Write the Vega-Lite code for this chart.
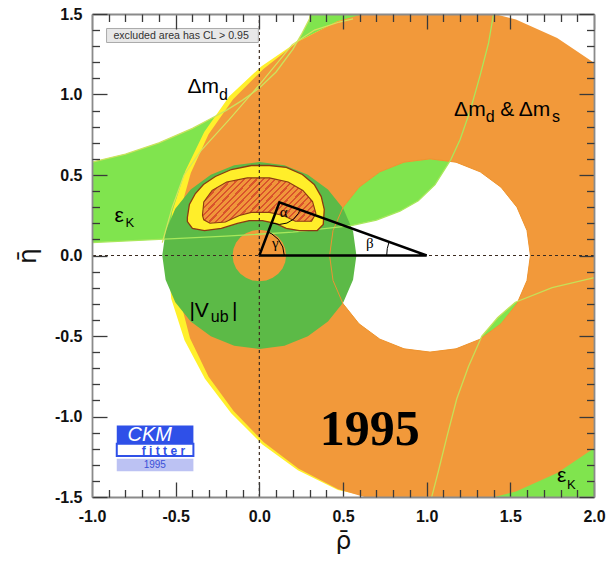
{
"$schema": "https://vega.github.io/schema/vega-lite/v6.json",
"width": 502, "height": 483,
"autosize": {"type": "none"},
"padding": {"left": 92, "top": 14, "right": 14, "bottom": 70},
"background": "white",
"config": {"view": {"stroke": null}, "axis": {"grid": false}},
"resolve": {"axis": {"x": "independent", "y": "independent"}},
"datasets": {
"g1": [{"rho":-1.1,"eta":0.072},{"rho":-1.1,"eta":0.55},{"rho":-1.0,"eta":0.58},{"rho":-0.8,"eta":0.63},{"rho":-0.6,"eta":0.70},{"rho":-0.4,"eta":0.79},{"rho":-0.3,"eta":0.845},{"rho":-0.2,"eta":0.90},{"rho":-0.1,"eta":0.965},{"rho":0.0,"eta":1.04},{"rho":0.1,"eta":1.14},{"rho":0.2,"eta":1.28},{"rho":0.25,"eta":1.37},{"rho":0.3,"eta":1.47},{"rho":0.32,"eta":1.6},{"rho":1.45,"eta":1.6},{"rho":1.40,"eta":1.5},{"rho":1.37,"eta":1.32},{"rho":1.32,"eta":1.12},{"rho":1.26,"eta":0.9},{"rho":1.2,"eta":0.72},{"rho":1.145,"eta":0.596},{"rho":1.05,"eta":0.44},{"rho":0.95,"eta":0.34},{"rho":0.84,"eta":0.275},{"rho":0.7,"eta":0.22},{"rho":0.55,"eta":0.186},{"rho":0.2,"eta":0.145},{"rho":-0.2,"eta":0.12},{"rho":-0.6,"eta":0.10},{"rho":-1.0,"eta":0.08},{"rho":-1.1,"eta":0.072}],
"lu": [{"rho":-1.0,"eta":0.58},{"rho":-0.8,"eta":0.63},{"rho":-0.6,"eta":0.70},{"rho":-0.4,"eta":0.79},{"rho":-0.3,"eta":0.845},{"rho":-0.2,"eta":0.90},{"rho":-0.1,"eta":0.965},{"rho":0.0,"eta":1.04},{"rho":0.1,"eta":1.14},{"rho":0.2,"eta":1.28},{"rho":0.25,"eta":1.37},{"rho":0.3,"eta":1.47},{"rho":0.32,"eta":1.6}],
"ll": [{"rho":-1.0,"eta":0.08},{"rho":-0.6,"eta":0.10},{"rho":-0.2,"eta":0.12},{"rho":0.2,"eta":0.145},{"rho":0.55,"eta":0.186},{"rho":0.7,"eta":0.22},{"rho":0.84,"eta":0.275},{"rho":0.95,"eta":0.34},{"rho":1.05,"eta":0.44},{"rho":1.145,"eta":0.596},{"rho":1.2,"eta":0.72},{"rho":1.26,"eta":0.9},{"rho":1.32,"eta":1.12},{"rho":1.37,"eta":1.32},{"rho":1.40,"eta":1.5},{"rho":1.45,"eta":1.6}],
"g2": [{"rho":2.1,"eta":-0.12},{"rho":1.99,"eta":-0.14},{"rho":1.75,"eta":-0.2},{"rho":1.53,"eta":-0.29},{"rho":1.425,"eta":-0.385},{"rho":1.33,"eta":-0.5},{"rho":1.25,"eta":-0.69},{"rho":1.18,"eta":-0.89},{"rho":1.12,"eta":-1.13},{"rho":1.07,"eta":-1.34},{"rho":1.03,"eta":-1.5},{"rho":1.02,"eta":-1.6},{"rho":2.1,"eta":-1.6},{"rho":2.1,"eta":-0.12}],
"lc2": [{"rho":2.1,"eta":-0.12},{"rho":1.99,"eta":-0.14},{"rho":1.75,"eta":-0.2},{"rho":1.53,"eta":-0.29},{"rho":1.425,"eta":-0.385},{"rho":1.33,"eta":-0.5},{"rho":1.25,"eta":-0.69},{"rho":1.18,"eta":-0.89},{"rho":1.12,"eta":-1.13},{"rho":1.07,"eta":-1.34},{"rho":1.03,"eta":-1.5},{"rho":1.02,"eta":-1.6}],
"l4": [{"rho":-0.58,"eta":0.08},{"rho":-0.52,"eta":0.30},{"rho":-0.45,"eta":0.50},{"rho":-0.35,"eta":0.65},{"rho":-0.179,"eta":0.845},{"rho":0.0,"eta":1.06},{"rho":0.197,"eta":1.31},{"rho":0.33,"eta":1.40},{"rho":0.478,"eta":1.45},{"rho":0.56,"eta":1.47}],
"hole": [{"rho":1.62,"eta":0},{"rho":1.5996,"eta":-0.1553},{"rho":1.5396,"eta":-0.3},{"rho":1.4443,"eta":-0.4243},{"rho":1.32,"eta":-0.5196},{"rho":1.1753,"eta":-0.5796},{"rho":1.02,"eta":-0.6},{"rho":0.8647,"eta":-0.5796},{"rho":0.72,"eta":-0.5196},{"rho":0.5957,"eta":-0.4243},{"rho":0.5004,"eta":-0.3},{"rho":0.4404,"eta":-0.1553},{"rho":0.42,"eta":0},{"rho":0.4404,"eta":0.1553},{"rho":0.5004,"eta":0.3},{"rho":0.5957,"eta":0.4243},{"rho":0.72,"eta":0.5196},{"rho":0.8647,"eta":0.5796},{"rho":1.02,"eta":0.6},{"rho":1.1753,"eta":0.5796},{"rho":1.32,"eta":0.5196},{"rho":1.4443,"eta":0.4243},{"rho":1.5396,"eta":0.3},{"rho":1.5996,"eta":0.1553},{"rho":1.62,"eta":0}],
"yel": [{"rho":2.54,"eta":0},{"rho":2.3336,"eta":0.77},{"rho":1.77,"eta":1.3336},{"rho":1.0,"eta":1.54},{"rho":0.7327,"eta":1.5166},{"rho":0.4699,"eta":1.4565},{"rho":0.2315,"eta":1.3311},{"rho":0.0133,"eta":1.1758},{"rho":-0.1796,"eta":0.9899},{"rho":-0.3293,"eta":0.7675},{"rho":-0.4424,"eta":0.525},{"rho":-0.5215,"eta":0.2682},{"rho":-0.55,"eta":0},{"rho":-0.5264,"eta":-0.2691},{"rho":-0.4471,"eta":-0.5267},{"rho":-0.325,"eta":-0.765},{"rho":-0.1682,"eta":-0.9803},{"rho":0.0165,"eta":-1.172},{"rho":0.23,"eta":-1.3336},{"rho":0.4699,"eta":-1.4565},{"rho":0.7326,"eta":-1.5166},{"rho":1.0,"eta":-1.54},{"rho":1.77,"eta":-1.3336},{"rho":2.3336,"eta":-0.77},{"rho":2.54,"eta":0},
{"rho":1.62,"eta":0},{"rho":1.5996,"eta":-0.1553},{"rho":1.5396,"eta":-0.3},{"rho":1.4443,"eta":-0.4243},{"rho":1.32,"eta":-0.5196},{"rho":1.1753,"eta":-0.5796},{"rho":1.02,"eta":-0.6},{"rho":0.8647,"eta":-0.5796},{"rho":0.72,"eta":-0.5196},{"rho":0.5957,"eta":-0.4243},{"rho":0.5004,"eta":-0.3},{"rho":0.4404,"eta":-0.1553},{"rho":0.42,"eta":0},{"rho":0.4404,"eta":0.1553},{"rho":0.5004,"eta":0.3},{"rho":0.5957,"eta":0.4243},{"rho":0.72,"eta":0.5196},{"rho":0.8647,"eta":0.5796},{"rho":1.02,"eta":0.6},{"rho":1.1753,"eta":0.5796},{"rho":1.32,"eta":0.5196},{"rho":1.4443,"eta":0.4243},{"rho":1.5396,"eta":0.3},{"rho":1.5996,"eta":0.1553},{"rho":1.62,"eta":0}],
"ora": [{"rho":2.56,"eta":0},{"rho":2.5363,"eta":0.2708},{"rho":2.4659,"eta":0.5335},{"rho":2.351,"eta":0.78},{"rho":2.195,"eta":1.0028},{"rho":2.0028,"eta":1.195},{"rho":1.78,"eta":1.351},{"rho":1.5335,"eta":1.4659},{"rho":1.2708,"eta":1.5363},{"rho":1.0,"eta":1.56},{"rho":0.73,"eta":1.5314},{"rho":0.4699,"eta":1.4565},{"rho":0.2325,"eta":1.3293},{"rho":0.0262,"eta":1.1605},{"rho":-0.1567,"eta":0.9706},{"rho":-0.3033,"eta":0.7525},{"rho":-0.4096,"eta":0.513},{"rho":-0.4772,"eta":0.2604},{"rho":-0.5,"eta":0},{"rho":-0.4772,"eta":-0.2604},{"rho":-0.4142,"eta":-0.5147},{"rho":-0.3033,"eta":-0.7525},{"rho":-0.1528,"eta":-0.9674},{"rho":0.0262,"eta":-1.1605},{"rho":0.235,"eta":-1.325},{"rho":0.4716,"eta":-1.4518},{"rho":0.73,"eta":-1.5314},{"rho":1.0,"eta":-1.56},{"rho":1.2708,"eta":-1.5363},{"rho":1.5335,"eta":-1.4659},{"rho":1.78,"eta":-1.351},{"rho":2.0028,"eta":-1.195},{"rho":2.195,"eta":-1.0028},{"rho":2.351,"eta":-0.78},{"rho":2.4659,"eta":-0.5335},{"rho":2.5363,"eta":-0.2708},{"rho":2.56,"eta":0},
{"rho":1.62,"eta":0},{"rho":1.5996,"eta":-0.1553},{"rho":1.5396,"eta":-0.3},{"rho":1.4443,"eta":-0.4243},{"rho":1.32,"eta":-0.5196},{"rho":1.1753,"eta":-0.5796},{"rho":1.02,"eta":-0.6},{"rho":0.8647,"eta":-0.5796},{"rho":0.72,"eta":-0.5196},{"rho":0.5957,"eta":-0.4243},{"rho":0.5004,"eta":-0.3},{"rho":0.4404,"eta":-0.1553},{"rho":0.42,"eta":0},{"rho":0.4404,"eta":0.1553},{"rho":0.5004,"eta":0.3},{"rho":0.5957,"eta":0.4243},{"rho":0.72,"eta":0.5196},{"rho":0.8647,"eta":0.5796},{"rho":1.02,"eta":0.6},{"rho":1.1753,"eta":0.5796},{"rho":1.32,"eta":0.5196},{"rho":1.4443,"eta":0.4243},{"rho":1.5396,"eta":0.3},{"rho":1.5996,"eta":0.1553},{"rho":1.62,"eta":0}],
"vub": [{"rho":0.58,"eta":0},{"rho":0.5602,"eta":0.1501},{"rho":0.5023,"eta":0.29},{"rho":0.4101,"eta":0.4101},{"rho":0.29,"eta":0.5023},{"rho":0.1501,"eta":0.5602},{"rho":0,"eta":0.58},{"rho":-0.1501,"eta":0.5602},{"rho":-0.29,"eta":0.5023},{"rho":-0.4101,"eta":0.4101},{"rho":-0.5023,"eta":0.29},{"rho":-0.5602,"eta":0.1501},{"rho":-0.58,"eta":0},{"rho":-0.5602,"eta":-0.1501},{"rho":-0.5023,"eta":-0.29},{"rho":-0.4101,"eta":-0.4101},{"rho":-0.29,"eta":-0.5023},{"rho":-0.1501,"eta":-0.5602},{"rho":0,"eta":-0.58},{"rho":0.1501,"eta":-0.5602},{"rho":0.29,"eta":-0.5023},{"rho":0.4101,"eta":-0.4101},{"rho":0.5023,"eta":-0.29},{"rho":0.5602,"eta":-0.1501},{"rho":0.58,"eta":0},
{"rho":0.16,"eta":0},{"rho":0.1545,"eta":-0.0414},{"rho":0.1386,"eta":-0.08},{"rho":0.1131,"eta":-0.1131},{"rho":0.08,"eta":-0.1386},{"rho":0.0414,"eta":-0.1545},{"rho":0,"eta":-0.16},{"rho":-0.0414,"eta":-0.1545},{"rho":-0.08,"eta":-0.1386},{"rho":-0.1131,"eta":-0.1131},{"rho":-0.1386,"eta":-0.08},{"rho":-0.1545,"eta":-0.0414},{"rho":-0.16,"eta":0},{"rho":-0.1545,"eta":0.0414},{"rho":-0.1386,"eta":0.08},{"rho":-0.1131,"eta":0.1131},{"rho":-0.08,"eta":0.1386},{"rho":-0.0414,"eta":0.1545},{"rho":0,"eta":0.16},{"rho":0.0414,"eta":0.1545},{"rho":0.08,"eta":0.1386},{"rho":0.1131,"eta":0.1131},{"rho":0.1386,"eta":0.08},{"rho":0.1545,"eta":0.0414},{"rho":0.16,"eta":0}],
"fy": [{"rho":-0.430,"eta":0.236},{"rho":-0.418,"eta":0.317},{"rho":-0.382,"eta":0.385},{"rho":-0.334,"eta":0.441},{"rho":-0.263,"eta":0.491},{"rho":-0.167,"eta":0.534},{"rho":-0.048,"eta":0.559},{"rho":0.060,"eta":0.559},{"rho":0.161,"eta":0.547},{"rho":0.257,"eta":0.503},{"rho":0.328,"eta":0.441},{"rho":0.370,"eta":0.366},{"rho":0.388,"eta":0.286},{"rho":0.382,"eta":0.193},{"rho":0.346,"eta":0.155},{"rho":0.239,"eta":0.155},{"rho":0.161,"eta":0.168},{"rho":0.096,"eta":0.199},{"rho":0.018,"eta":0.217},{"rho":-0.060,"eta":0.217},{"rho":-0.131,"eta":0.199},{"rho":-0.227,"eta":0.168},{"rho":-0.328,"eta":0.155},{"rho":-0.400,"eta":0.168},{"rho":-0.430,"eta":0.211},{"rho":-0.430,"eta":0.236}],
"fh": [{"rho":-0.34,"eta":0.25},{"rho":-0.332,"eta":0.332},{"rho":-0.282,"eta":0.405},{"rho":-0.195,"eta":0.456},{"rho":-0.072,"eta":0.482},{"rho":0.060,"eta":0.482},{"rho":0.172,"eta":0.456},{"rho":0.260,"eta":0.404},{"rho":0.318,"eta":0.335},{"rho":0.338,"eta":0.262},{"rho":0.312,"eta":0.213},{"rho":0.215,"eta":0.213},{"rho":0.143,"eta":0.248},{"rho":0.060,"eta":0.268},{"rho":-0.048,"eta":0.268},{"rho":-0.119,"eta":0.248},{"rho":-0.203,"eta":0.208},{"rho":-0.295,"eta":0.200},{"rho":-0.332,"eta":0.222},{"rho":-0.34,"eta":0.25}],
"tri": [{"rho":0,"eta":0},{"rho":0.12,"eta":0.33},{"rho":1,"eta":0},{"rho":0,"eta":0}],
"arcs": [{"k":"a","rho":0.0737,"eta":0.2018},{"k":"a","rho":0.12,"eta":0.193},{"k":"a","rho":0.1648,"eta":0.2013},{"k":"a","rho":0.2042,"eta":0.225},{"k":"a","rho":0.2334,"eta":0.2615},{"k":"a","rho":0.2433,"eta":0.2836},
{"k":"g","rho":0.149,"eta":0},{"k":"g","rho":0.14,"eta":0.053},{"k":"g","rho":0.1141,"eta":0.0996},{"k":"g","rho":0.0745,"eta":0.1342},{"k":"g","rho":0.0527,"eta":0.145},
{"k":"b","rho":0.761,"eta":0},{"k":"b","rho":0.7646,"eta":0.0431},{"k":"b","rho":0.7751,"eta":0.084}],
"v0": [{"rho":0}],
"h0": [{"eta":0}],
"t21": [{"rho":-0.43,"eta":1.009,"t":"Δm"},{"rho":1.164,"eta":0.866,"t":"Δm"},{"rho":1.439,"eta":0.866,"t":"& Δm"},{"rho":-0.418,"eta":-0.385,"t":"|V"},{"rho":-0.163,"eta":-0.385,"t":"|"},{"rho":-0.866,"eta":0.211,"t":"ε"},{"rho":1.779,"eta":-1.404,"t":"ε"}],
"t16": [{"rho":-0.241,"eta":0.963,"t":"d"},{"rho":1.353,"eta":0.832,"t":"d"},{"rho":1.749,"eta":0.832,"t":"s"},{"rho":-0.29,"eta":-0.41,"t":"ub"}],
"t13": [{"rho":-0.80,"eta":0.174,"t":"K"},{"rho":1.839,"eta":-1.453,"t":"K"}],
"tg": [{"rho":0.145,"eta":0.242,"t":"α"},{"rho":0.095,"eta":0.045,"t":"γ"},{"rho":0.66,"eta":0.045,"t":"β"}],
"ty": [{"rho":0.66,"eta":-1.174,"t":"1995"}],
"legbox": [{"rho":-0.913,"rho2":-0.006,"eta":1.41,"eta2":1.323}],
"tleg": [{"rho":-0.872,"eta":1.346,"t":"excluded area has CL > 0.95"}],
"lb": [{"rho":-0.852,"rho2":-0.394,"eta":-1.056,"eta2":-1.170}],
"lw": [{"rho":-0.852,"rho2":-0.394,"eta":-1.170,"eta2":-1.245}],
"lv": [{"rho":-0.852,"rho2":-0.394,"eta":-1.263,"eta2":-1.340}],
"tckm": [{"rho":-0.788,"eta":-1.150,"t":"CKM"}],
"tfit": [{"rho":-0.573,"eta":-1.240,"t":"f i t t e r"}],
"tyr": [{"rho":-0.625,"eta":-1.319,"t":"1995"}],
"ax": [{"rho":0,"eta":0}]
},
"layer": [
{"data":{"name":"g1"},"mark":{"type":"line","fill":"#80E44E","strokeWidth":0,"clip":true},"encoding":{"x":{"field":"rho","type":"quantitative","scale":{"domain":[-1,2],"nice":false,"zero":false},"axis":null},"y":{"field":"eta","type":"quantitative","scale":{"domain":[-1.5,1.5],"nice":false,"zero":false},"axis":null},"order":{"value":null}}},
{"data":{"name":"g2"},"mark":{"type":"line","fill":"#80E44E","strokeWidth":0,"clip":true},"encoding":{"x":{"field":"rho","type":"quantitative","scale":{"domain":[-1,2],"nice":false,"zero":false},"axis":null},"y":{"field":"eta","type":"quantitative","scale":{"domain":[-1.5,1.5],"nice":false,"zero":false},"axis":null},"order":{"value":null}}},
{"data":{"name":"yel"},"mark":{"type":"line","fill":"#FFF02C","strokeWidth":0,"clip":true},"encoding":{"x":{"field":"rho","type":"quantitative","scale":{"domain":[-1,2],"nice":false,"zero":false},"axis":null},"y":{"field":"eta","type":"quantitative","scale":{"domain":[-1.5,1.5],"nice":false,"zero":false},"axis":null},"order":{"value":null}}},
{"data":{"name":"ora"},"mark":{"type":"line","fill":"#F2993A","strokeWidth":0,"clip":true},"encoding":{"x":{"field":"rho","type":"quantitative","scale":{"domain":[-1,2],"nice":false,"zero":false},"axis":null},"y":{"field":"eta","type":"quantitative","scale":{"domain":[-1.5,1.5],"nice":false,"zero":false},"axis":null},"order":{"value":null}}},
{"data":{"name":"vub"},"mark":{"type":"line","fill":"#5CBA47","strokeWidth":0,"clip":true},"encoding":{"x":{"field":"rho","type":"quantitative","scale":{"domain":[-1,2],"nice":false,"zero":false},"axis":null},"y":{"field":"eta","type":"quantitative","scale":{"domain":[-1.5,1.5],"nice":false,"zero":false},"axis":null},"order":{"value":null}}},
{"data":{"name":"hole"},"mark":{"type":"line","stroke":"#EE9232","strokeWidth":1,"clip":true},"encoding":{"x":{"field":"rho","type":"quantitative","scale":{"domain":[-1,2],"nice":false,"zero":false},"axis":null},"y":{"field":"eta","type":"quantitative","scale":{"domain":[-1.5,1.5],"nice":false,"zero":false},"axis":null},"order":{"value":null}}},
{"data":{"name":"ll"},"mark":{"type":"line","stroke":"#A8E85C","strokeWidth":1.3,"clip":true},"encoding":{"x":{"field":"rho","type":"quantitative","scale":{"domain":[-1,2],"nice":false,"zero":false},"axis":null},"y":{"field":"eta","type":"quantitative","scale":{"domain":[-1.5,1.5],"nice":false,"zero":false},"axis":null},"order":{"value":null}}},
{"data":{"name":"lu"},"mark":{"type":"line","stroke":"#CBE35E","strokeWidth":1.3,"clip":true},"encoding":{"x":{"field":"rho","type":"quantitative","scale":{"domain":[-1,2],"nice":false,"zero":false},"axis":null},"y":{"field":"eta","type":"quantitative","scale":{"domain":[-1.5,1.5],"nice":false,"zero":false},"axis":null},"order":{"value":null}}},
{"data":{"name":"lc2"},"mark":{"type":"line","stroke":"#C6E058","strokeWidth":1.3,"clip":true},"encoding":{"x":{"field":"rho","type":"quantitative","scale":{"domain":[-1,2],"nice":false,"zero":false},"axis":null},"y":{"field":"eta","type":"quantitative","scale":{"domain":[-1.5,1.5],"nice":false,"zero":false},"axis":null},"order":{"value":null}}},
{"data":{"name":"l4"},"mark":{"type":"line","stroke":"#D4E45E","strokeWidth":1.2,"clip":true},"encoding":{"x":{"field":"rho","type":"quantitative","scale":{"domain":[-1,2],"nice":false,"zero":false},"axis":null},"y":{"field":"eta","type":"quantitative","scale":{"domain":[-1.5,1.5],"nice":false,"zero":false},"axis":null},"order":{"value":null}}},
{"data":{"name":"fy"},"mark":{"type":"line","fill":"#FFEE2A","stroke":"#8B3A12","strokeWidth":1.3,"clip":true},"encoding":{"x":{"field":"rho","type":"quantitative","scale":{"domain":[-1,2],"nice":false,"zero":false},"axis":null},"y":{"field":"eta","type":"quantitative","scale":{"domain":[-1.5,1.5],"nice":false,"zero":false},"axis":null},"order":{"value":null}}},
{"data":{"name":"fh"},"mark":{"type":"line","stroke":"#8B3A12","strokeWidth":1.1,"clip":true,"fill":{"gradient":"linear","x1":0,"y1":0,"x2":1.206,"y2":0.465,"stops":[
{"offset":0,"color":"#F0963A"},{"offset":0.026,"color":"#F0963A"},{"offset":0.026,"color":"#D9532B"},{"offset":0.04,"color":"#D9532B"},
{"offset":0.04,"color":"#F0963A"},{"offset":0.066,"color":"#F0963A"},{"offset":0.066,"color":"#D9532B"},{"offset":0.08,"color":"#D9532B"},
{"offset":0.08,"color":"#F0963A"},{"offset":0.106,"color":"#F0963A"},{"offset":0.106,"color":"#D9532B"},{"offset":0.12,"color":"#D9532B"},
{"offset":0.12,"color":"#F0963A"},{"offset":0.146,"color":"#F0963A"},{"offset":0.146,"color":"#D9532B"},{"offset":0.16,"color":"#D9532B"},
{"offset":0.16,"color":"#F0963A"},{"offset":0.186,"color":"#F0963A"},{"offset":0.186,"color":"#D9532B"},{"offset":0.2,"color":"#D9532B"},
{"offset":0.2,"color":"#F0963A"},{"offset":0.226,"color":"#F0963A"},{"offset":0.226,"color":"#D9532B"},{"offset":0.24,"color":"#D9532B"},
{"offset":0.24,"color":"#F0963A"},{"offset":0.266,"color":"#F0963A"},{"offset":0.266,"color":"#D9532B"},{"offset":0.28,"color":"#D9532B"},
{"offset":0.28,"color":"#F0963A"},{"offset":0.306,"color":"#F0963A"},{"offset":0.306,"color":"#D9532B"},{"offset":0.32,"color":"#D9532B"},
{"offset":0.32,"color":"#F0963A"},{"offset":0.346,"color":"#F0963A"},{"offset":0.346,"color":"#D9532B"},{"offset":0.36,"color":"#D9532B"},
{"offset":0.36,"color":"#F0963A"},{"offset":0.386,"color":"#F0963A"},{"offset":0.386,"color":"#D9532B"},{"offset":0.4,"color":"#D9532B"},
{"offset":0.4,"color":"#F0963A"},{"offset":0.426,"color":"#F0963A"},{"offset":0.426,"color":"#D9532B"},{"offset":0.44,"color":"#D9532B"},
{"offset":0.44,"color":"#F0963A"},{"offset":0.466,"color":"#F0963A"},{"offset":0.466,"color":"#D9532B"},{"offset":0.48,"color":"#D9532B"},
{"offset":0.48,"color":"#F0963A"},{"offset":0.506,"color":"#F0963A"},{"offset":0.506,"color":"#D9532B"},{"offset":0.52,"color":"#D9532B"},
{"offset":0.52,"color":"#F0963A"},{"offset":0.546,"color":"#F0963A"},{"offset":0.546,"color":"#D9532B"},{"offset":0.56,"color":"#D9532B"},
{"offset":0.56,"color":"#F0963A"},{"offset":0.586,"color":"#F0963A"},{"offset":0.586,"color":"#D9532B"},{"offset":0.6,"color":"#D9532B"},
{"offset":0.6,"color":"#F0963A"},{"offset":0.626,"color":"#F0963A"},{"offset":0.626,"color":"#D9532B"},{"offset":0.64,"color":"#D9532B"},
{"offset":0.64,"color":"#F0963A"},{"offset":0.666,"color":"#F0963A"},{"offset":0.666,"color":"#D9532B"},{"offset":0.68,"color":"#D9532B"},
{"offset":0.68,"color":"#F0963A"},{"offset":0.706,"color":"#F0963A"},{"offset":0.706,"color":"#D9532B"},{"offset":0.72,"color":"#D9532B"},
{"offset":0.72,"color":"#F0963A"},{"offset":0.746,"color":"#F0963A"},{"offset":0.746,"color":"#D9532B"},{"offset":0.76,"color":"#D9532B"},
{"offset":0.76,"color":"#F0963A"},{"offset":0.786,"color":"#F0963A"},{"offset":0.786,"color":"#D9532B"},{"offset":0.8,"color":"#D9532B"},
{"offset":0.8,"color":"#F0963A"},{"offset":0.826,"color":"#F0963A"},{"offset":0.826,"color":"#D9532B"},{"offset":0.84,"color":"#D9532B"},
{"offset":0.84,"color":"#F0963A"},{"offset":0.866,"color":"#F0963A"},{"offset":0.866,"color":"#D9532B"},{"offset":0.88,"color":"#D9532B"},
{"offset":0.88,"color":"#F0963A"},{"offset":0.906,"color":"#F0963A"},{"offset":0.906,"color":"#D9532B"},{"offset":0.92,"color":"#D9532B"},
{"offset":0.92,"color":"#F0963A"},{"offset":0.946,"color":"#F0963A"},{"offset":0.946,"color":"#D9532B"},{"offset":0.96,"color":"#D9532B"},
{"offset":0.96,"color":"#F0963A"},{"offset":0.986,"color":"#F0963A"},{"offset":0.986,"color":"#D9532B"},{"offset":1,"color":"#D9532B"}
]}},"encoding":{"x":{"field":"rho","type":"quantitative","scale":{"domain":[-1,2],"nice":false,"zero":false},"axis":null},"y":{"field":"eta","type":"quantitative","scale":{"domain":[-1.5,1.5],"nice":false,"zero":false},"axis":null},"order":{"value":null}}},
{"data":{"name":"v0"},"mark":{"type":"rule","stroke":"#3B2B20","strokeWidth":1.2,"strokeDash":[3,3]},"encoding":{"x":{"field":"rho","type":"quantitative","scale":{"domain":[-1,2],"nice":false,"zero":false},"axis":null}}},
{"data":{"name":"h0"},"mark":{"type":"rule","stroke":"#3B2B20","strokeWidth":1.2,"strokeDash":[3,3]},"encoding":{"y":{"field":"eta","type":"quantitative","scale":{"domain":[-1.5,1.5],"nice":false,"zero":false},"axis":null}}},
{"data":{"name":"tri"},"mark":{"type":"line","stroke":"#000000","strokeWidth":2.5,"strokeJoin":"miter"},"encoding":{"x":{"field":"rho","type":"quantitative","scale":{"domain":[-1,2],"nice":false,"zero":false},"axis":null},"y":{"field":"eta","type":"quantitative","scale":{"domain":[-1.5,1.5],"nice":false,"zero":false},"axis":null},"order":{"value":null}}},
{"data":{"name":"arcs"},"mark":{"type":"line","stroke":"#000000","strokeWidth":1},"encoding":{"x":{"field":"rho","type":"quantitative","scale":{"domain":[-1,2],"nice":false,"zero":false},"axis":null},"y":{"field":"eta","type":"quantitative","scale":{"domain":[-1.5,1.5],"nice":false,"zero":false},"axis":null},"detail":{"field":"k"},"order":{"value":null}}},
{"data":{"name":"t21"},"mark":{"type":"text","font":"Liberation Sans","fontSize":21,"align":"left","baseline":"alphabetic","fill":"#000000"},"encoding":{"x":{"field":"rho","type":"quantitative","scale":{"domain":[-1,2],"nice":false,"zero":false},"axis":null},"y":{"field":"eta","type":"quantitative","scale":{"domain":[-1.5,1.5],"nice":false,"zero":false},"axis":null},"text":{"field":"t"}}},
{"data":{"name":"t16"},"mark":{"type":"text","font":"Liberation Sans","fontSize":16,"align":"left","baseline":"alphabetic","fill":"#000000"},"encoding":{"x":{"field":"rho","type":"quantitative","scale":{"domain":[-1,2],"nice":false,"zero":false},"axis":null},"y":{"field":"eta","type":"quantitative","scale":{"domain":[-1.5,1.5],"nice":false,"zero":false},"axis":null},"text":{"field":"t"}}},
{"data":{"name":"t13"},"mark":{"type":"text","font":"Liberation Sans","fontSize":13,"align":"left","baseline":"alphabetic","fill":"#000000"},"encoding":{"x":{"field":"rho","type":"quantitative","scale":{"domain":[-1,2],"nice":false,"zero":false},"axis":null},"y":{"field":"eta","type":"quantitative","scale":{"domain":[-1.5,1.5],"nice":false,"zero":false},"axis":null},"text":{"field":"t"}}},
{"data":{"name":"tg"},"mark":{"type":"text","font":"Liberation Serif","fontSize":15,"align":"center","baseline":"alphabetic","fill":"#000000"},"encoding":{"x":{"field":"rho","type":"quantitative","scale":{"domain":[-1,2],"nice":false,"zero":false},"axis":null},"y":{"field":"eta","type":"quantitative","scale":{"domain":[-1.5,1.5],"nice":false,"zero":false},"axis":null},"text":{"field":"t"}}},
{"data":{"name":"ty"},"mark":{"type":"text","font":"Liberation Serif","fontSize":50,"fontWeight":"bold","align":"center","baseline":"alphabetic","fill":"#000000"},"encoding":{"x":{"field":"rho","type":"quantitative","scale":{"domain":[-1,2],"nice":false,"zero":false},"axis":null},"y":{"field":"eta","type":"quantitative","scale":{"domain":[-1.5,1.5],"nice":false,"zero":false},"axis":null},"text":{"field":"t"}}},
{"data":{"name":"legbox"},"mark":{"type":"rect","fill":"#E8E8E8","stroke":"#ABABAB","strokeWidth":1},"encoding":{"x":{"field":"rho","type":"quantitative","scale":{"domain":[-1,2],"nice":false,"zero":false},"axis":null},"x2":{"field":"rho2"},"y":{"field":"eta","type":"quantitative","scale":{"domain":[-1.5,1.5],"nice":false,"zero":false},"axis":null},"y2":{"field":"eta2"}}},
{"data":{"name":"tleg"},"mark":{"type":"text","font":"Liberation Sans","fontSize":10.6,"align":"left","baseline":"alphabetic","fill":"#333333"},"encoding":{"x":{"field":"rho","type":"quantitative","scale":{"domain":[-1,2],"nice":false,"zero":false},"axis":null},"y":{"field":"eta","type":"quantitative","scale":{"domain":[-1.5,1.5],"nice":false,"zero":false},"axis":null},"text":{"field":"t"}}},
{"data":{"name":"lb"},"mark":{"type":"rect","fill":"#2F50E8"},"encoding":{"x":{"field":"rho","type":"quantitative","scale":{"domain":[-1,2],"nice":false,"zero":false},"axis":null},"x2":{"field":"rho2"},"y":{"field":"eta","type":"quantitative","scale":{"domain":[-1.5,1.5],"nice":false,"zero":false},"axis":null},"y2":{"field":"eta2"}}},
{"data":{"name":"lw"},"mark":{"type":"rect","fill":"#FFFFFF","stroke":"#2F50E8","strokeWidth":2},"encoding":{"x":{"field":"rho","type":"quantitative","scale":{"domain":[-1,2],"nice":false,"zero":false},"axis":null},"x2":{"field":"rho2"},"y":{"field":"eta","type":"quantitative","scale":{"domain":[-1.5,1.5],"nice":false,"zero":false},"axis":null},"y2":{"field":"eta2"}}},
{"data":{"name":"lv"},"mark":{"type":"rect","fill":"#BCC2F3"},"encoding":{"x":{"field":"rho","type":"quantitative","scale":{"domain":[-1,2],"nice":false,"zero":false},"axis":null},"x2":{"field":"rho2"},"y":{"field":"eta","type":"quantitative","scale":{"domain":[-1.5,1.5],"nice":false,"zero":false},"axis":null},"y2":{"field":"eta2"}}},
{"data":{"name":"tckm"},"mark":{"type":"text","font":"Liberation Sans","fontSize":20,"fontStyle":"italic","align":"left","baseline":"alphabetic","fill":"#FFFFFF"},"encoding":{"x":{"field":"rho","type":"quantitative","scale":{"domain":[-1,2],"nice":false,"zero":false},"axis":null},"y":{"field":"eta","type":"quantitative","scale":{"domain":[-1.5,1.5],"nice":false,"zero":false},"axis":null},"text":{"field":"t"}}},
{"data":{"name":"tfit"},"mark":{"type":"text","font":"Liberation Sans","fontSize":12,"fontWeight":"bold","align":"center","baseline":"alphabetic","fill":"#2F50E8"},"encoding":{"x":{"field":"rho","type":"quantitative","scale":{"domain":[-1,2],"nice":false,"zero":false},"axis":null},"y":{"field":"eta","type":"quantitative","scale":{"domain":[-1.5,1.5],"nice":false,"zero":false},"axis":null},"text":{"field":"t"}}},
{"data":{"name":"tyr"},"mark":{"type":"text","font":"Liberation Sans","fontSize":10,"align":"center","baseline":"alphabetic","fill":"#3A4FD8"},"encoding":{"x":{"field":"rho","type":"quantitative","scale":{"domain":[-1,2],"nice":false,"zero":false},"axis":null},"y":{"field":"eta","type":"quantitative","scale":{"domain":[-1.5,1.5],"nice":false,"zero":false},"axis":null},"text":{"field":"t"}}},
{"data":{"name":"ax"},"mark":{"type":"point","opacity":0},"encoding":{
"x":{"field":"rho","type":"quantitative","scale":{"domain":[-1,2],"nice":false,"zero":false},"axis":{"orient":"bottom","values":[-1,-0.5,0,0.5,1,1.5,2],"labelExpr":"datum.value < 0 ? '-' + format(-datum.value, '.1f') : format(datum.value, '.1f')","labelFont":"Liberation Sans","labelFontWeight":"bold","labelFontSize":16,"labelColor":"#111111","labelPadding":11,"labelFlush":false,"labelOverlap":false,"ticks":false,"domain":false,"title":"ρ̄","titleFont":"DejaVu Sans","titleFontSize":25,"titleFontWeight":"normal","titleColor":"#111111","titlePadding":4}},
"y":{"field":"eta","type":"quantitative","scale":{"domain":[-1.5,1.5],"nice":false,"zero":false},"axis":{"orient":"left","values":[-1.5,-1,-0.5,0,0.5,1,1.5],"labelExpr":"datum.value < 0 ? '-' + format(-datum.value, '.1f') : format(datum.value, '.1f')","labelFont":"Liberation Sans","labelFontWeight":"bold","labelFontSize":16,"labelColor":"#111111","labelPadding":10,"labelFlush":false,"labelOverlap":false,"ticks":false,"domain":false,"title":"η̄","titleFont":"DejaVu Sans","titleFontSize":25,"titleFontWeight":"normal","titleColor":"#111111","titlePadding":14}}}},
{"data":{"name":"ax"},"mark":{"type":"point","opacity":0},"encoding":{
"x":{"field":"rho","type":"quantitative","scale":{"domain":[-1,2],"nice":false,"zero":false},"axis":{"orient":"bottom","values":[-1,-0.5,0,0.5,1,1.5,2],"labels":false,"ticks":true,"tickSize":-15,"tickColor":"#3A3A3A","tickWidth":1.3,"domain":true,"domainColor":"#8A8A8A","domainWidth":1.8,"title":null,"zindex":2}},
"y":{"field":"eta","type":"quantitative","scale":{"domain":[-1.5,1.5],"nice":false,"zero":false},"axis":{"orient":"left","values":[-1.5,-1,-0.5,0,0.5,1,1.5],"labels":false,"ticks":true,"tickSize":-15,"tickColor":"#3A3A3A","tickWidth":1.3,"domain":true,"domainColor":"#8A8A8A","domainWidth":1.8,"title":null,"zindex":2}}}},
{"data":{"name":"ax"},"mark":{"type":"point","opacity":0},"encoding":{
"x":{"field":"rho","type":"quantitative","scale":{"domain":[-1,2],"nice":false,"zero":false},"axis":{"orient":"bottom","values":[-0.9,-0.8,-0.7,-0.6,-0.4,-0.3,-0.2,-0.1,0.1,0.2,0.3,0.4,0.6,0.7,0.8,0.9,1.1,1.2,1.3,1.4,1.6,1.7,1.8,1.9],"labels":false,"ticks":true,"tickSize":-7.5,"tickColor":"#3A3A3A","tickWidth":1.3,"domain":false,"title":null,"zindex":2}},
"y":{"field":"eta","type":"quantitative","scale":{"domain":[-1.5,1.5],"nice":false,"zero":false},"axis":{"orient":"left","values":[-1.4,-1.3,-1.2,-1.1,-0.9,-0.8,-0.7,-0.6,-0.4,-0.3,-0.2,-0.1,0.1,0.2,0.3,0.4,0.6,0.7,0.8,0.9,1.1,1.2,1.3,1.4],"labels":false,"ticks":true,"tickSize":-7.5,"tickColor":"#3A3A3A","tickWidth":1.3,"domain":false,"title":null,"zindex":2}}}},
{"data":{"name":"ax"},"mark":{"type":"point","opacity":0},"encoding":{
"x":{"field":"rho","type":"quantitative","scale":{"domain":[-1,2],"nice":false,"zero":false},"axis":{"orient":"top","values":[-1,-0.5,0,0.5,1,1.5,2],"labels":false,"ticks":true,"tickSize":-15,"tickColor":"#3A3A3A","tickWidth":1.3,"domain":true,"domainColor":"#8A8A8A","domainWidth":1.8,"title":null,"zindex":2}},
"y":{"field":"eta","type":"quantitative","scale":{"domain":[-1.5,1.5],"nice":false,"zero":false},"axis":{"orient":"right","values":[-1.5,-1,-0.5,0,0.5,1,1.5],"labels":false,"ticks":true,"tickSize":-15,"tickColor":"#3A3A3A","tickWidth":1.3,"domain":true,"domainColor":"#8A8A8A","domainWidth":1.8,"title":null,"zindex":2}}}},
{"data":{"name":"ax"},"mark":{"type":"point","opacity":0},"encoding":{
"x":{"field":"rho","type":"quantitative","scale":{"domain":[-1,2],"nice":false,"zero":false},"axis":{"orient":"top","values":[-0.9,-0.8,-0.7,-0.6,-0.4,-0.3,-0.2,-0.1,0.1,0.2,0.3,0.4,0.6,0.7,0.8,0.9,1.1,1.2,1.3,1.4,1.6,1.7,1.8,1.9],"labels":false,"ticks":true,"tickSize":-7.5,"tickColor":"#3A3A3A","tickWidth":1.3,"domain":false,"title":null,"zindex":2}},
"y":{"field":"eta","type":"quantitative","scale":{"domain":[-1.5,1.5],"nice":false,"zero":false},"axis":{"orient":"right","values":[-1.4,-1.3,-1.2,-1.1,-0.9,-0.8,-0.7,-0.6,-0.4,-0.3,-0.2,-0.1,0.1,0.2,0.3,0.4,0.6,0.7,0.8,0.9,1.1,1.2,1.3,1.4],"labels":false,"ticks":true,"tickSize":-7.5,"tickColor":"#3A3A3A","tickWidth":1.3,"domain":false,"title":null,"zindex":2}}}}
]
}
